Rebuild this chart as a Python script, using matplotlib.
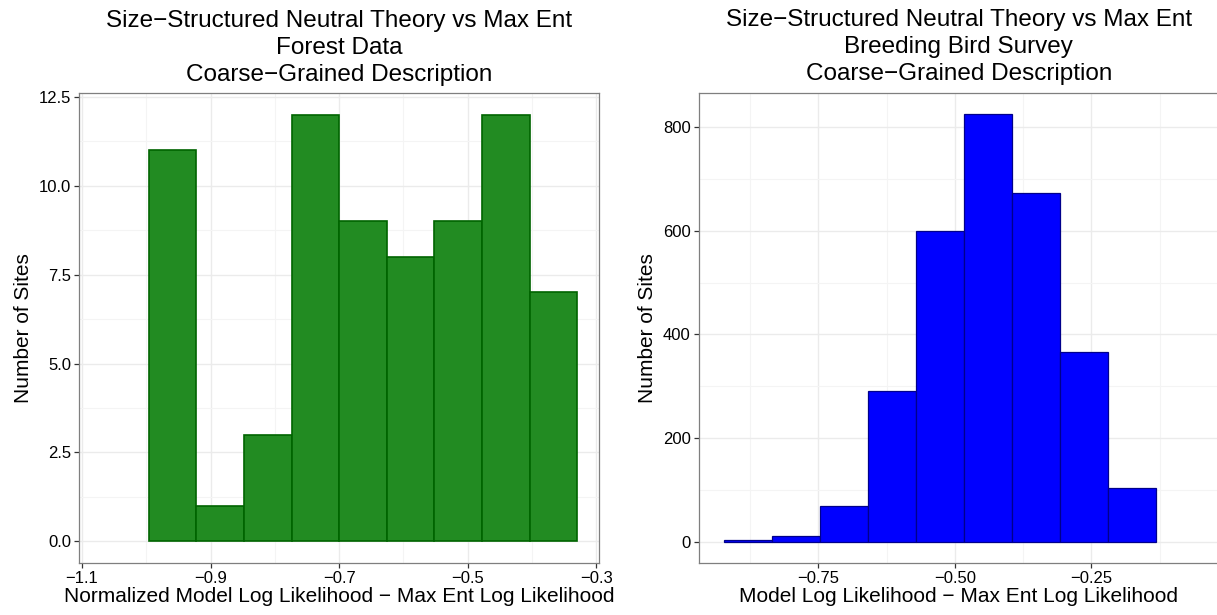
import numpy as np
import matplotlib
matplotlib.use("Agg")
import matplotlib.pyplot as plt
from matplotlib.ticker import MultipleLocator

plt.rcParams['font.family'] = ['Liberation Sans', 'DejaVu Sans']

# Forest data histogram (left)
forest_counts = [11, 1, 3, 12, 9, 8, 9, 12, 7]
forest_range = (-0.996, -0.330)

# Breeding Bird Survey histogram (right)
bbs_counts = [3, 10, 68, 290, 600, 825, 672, 365, 103]
bbs_range = (-0.9227, -0.1316)

title_lines = "Size\u2212Structured Neutral Theory vs Max Ent\n{}\nCoarse\u2212Grained Description"
left_sub = "Forest Data"
right_sub = "Breeding Bird Survey"
left_xlabel = "Normalized Model Log Likelihood \u2212 Max Ent Log Likelihood"
right_xlabel = "Model Log Likelihood \u2212 Max Ent Log Likelihood"
ylabel = "Number of Sites"

W, H = 1217, 615
fig = plt.figure(figsize=(W / 100, H / 100), dpi=100)


def px_axes(x0, x1, y0, y1):
    # pixel box (top-left origin) -> figure axes
    return fig.add_axes([x0 / W, 1 - y1 / H, (x1 - x0) / W, (y1 - y0) / H])


def style(ax, major_x, minor_x, major_y, minor_y):
    ax.set_axisbelow(True)
    ax.xaxis.set_major_locator(MultipleLocator(major_x))
    ax.xaxis.set_minor_locator(MultipleLocator(minor_x))
    ax.yaxis.set_major_locator(MultipleLocator(major_y))
    ax.yaxis.set_minor_locator(MultipleLocator(minor_y))
    ax.grid(which='major', color='#EBEBEB', linewidth=1.0)
    ax.grid(which='minor', color='#F4F4F4', linewidth=0.8)
    for s in ax.spines.values():
        s.set_color('#7F7F7F')
        s.set_linewidth(0.9)
    ax.tick_params(which='major', length=3.6, width=0.9, color='#333333',
                   labelsize=12, labelcolor='black', pad=2.2)
    ax.tick_params(which='minor', length=0)


def draw_hist(ax, counts, rng, face, edge, lw):
    edges = np.linspace(rng[0], rng[1], len(counts) + 1)
    ax.bar(edges[:-1], counts, width=np.diff(edges), align='edge',
           color=face, edgecolor=edge, linewidth=lw)


# left panel
ax1 = px_axes(79.3, 599.3, 93.3, 562.7)
draw_hist(ax1, forest_counts, forest_range, '#228B22', '#006400', 1.2)
ax1.set_xlim(-1.104, -0.2955)
ax1.set_ylim(-0.6, 12.6)
style(ax1, 0.2, 0.1, 2.5, 1.25)
ax1.set_xticks([-1.1, -0.9, -0.7, -0.5, -0.3])
ax1.set_xticklabels(['\u22121.1', '\u22120.9', '\u22120.7', '\u22120.5', '\u22120.3'])
ax1.set_yticks([0, 2.5, 5, 7.5, 10, 12.5])
ax1.set_yticklabels(['0.0', '2.5', '5.0', '7.5', '10.0', '12.5'])
ax1.set_xlabel(left_xlabel, fontsize=15, labelpad=1)
ax1.set_ylabel(ylabel, fontsize=15, labelpad=4)
ax1.set_title(title_lines.format(left_sub), fontsize=17.5, linespacing=1.3, pad=9)

# right panel
ax2 = px_axes(698.7, 1218.7, 92.7, 563.0)
draw_hist(ax2, bbs_counts, bbs_range, '#0000FF', '#00008B', 0.9)
ax2.set_xlim(-0.969, -0.0167)
ax2.set_ylim(-41.25, 866.25)
style(ax2, 0.25, 0.125, 200, 100)
ax2.set_xticks([-0.75, -0.5, -0.25])
ax2.set_xticklabels(['\u22120.75', '\u22120.50', '\u22120.25'])
ax2.set_xlabel(right_xlabel, fontsize=15, labelpad=1)
ax2.set_ylabel(ylabel, fontsize=15, labelpad=4)
ax2.set_title(title_lines.format(right_sub), fontsize=17.5, linespacing=1.3, pad=9)

fig.savefig("out.png", dpi=100)
